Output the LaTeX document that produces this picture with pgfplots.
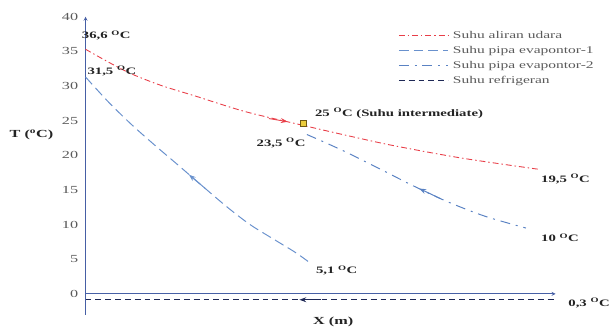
\documentclass[border=0pt]{standalone}
\usepackage{fontspec}
\setmainfont{Liberation Serif}[FakeStretch=1.5]
\usepackage{pgfplots}
\pgfplotsset{compat=1.18}
\usetikzlibrary{arrows.meta}
\definecolor{cred}{RGB}{232,62,72}
\definecolor{cblueA}{RGB}{105,145,205}
\definecolor{cblueB}{RGB}{90,130,195}
\definecolor{cref}{RGB}{30,40,85}
\definecolor{caxis}{RGB}{70,95,165}
\definecolor{clab}{RGB}{35,35,35}
\definecolor{cleg}{RGB}{90,90,90}
\begin{document}
\begin{tikzpicture}
\begin{axis}[
  scale only axis,
  width=478pt, height=303pt,
  xmin=0, xmax=10, ymin=-3, ymax=40,
  axis x line=middle, axis y line=left,
  axis line style={color=caxis, line width=0.8pt},
  hide obscured y ticks=false,
  xtick=\empty,
  ytick={0,5,...,40},
  major tick length=0pt,
  /pgf/number format/assume math mode=true,
  yticklabel style={font=\fontsize{11}{13}\selectfont, text=cleg, xshift=-4pt},
  clip=false,
  legend style={font=\fontsize{10.5}{12}\selectfont, draw=none, fill=none,
    at={(axis cs:6.65,38.2)}, anchor=north west, inner sep=0pt, row sep=2.8pt, column sep=3pt,
    nodes={inner sep=1.5pt, text height=7.5pt, text depth=2pt}},
  legend cell align=left,
  legend image code/.code={\draw[#1] (0pt,0pt) -- (50pt,0pt);},
]
% Suhu aliran udara
\addplot[color=cred, line width=0.9pt, smooth, dash pattern=on 6pt off 3pt on 1.5pt off 3pt] coordinates {
 (0,35.3) (0.5,33.4) (0.96,31.8) (1.6,30.1) (2.36,28.5) (3.4,26.3) (4.64,24.3)
 (5.6,22.8) (6.55,21.4) (8.0,19.6) (9.62,18.0)};
\addlegendentry{\textcolor{cleg}{Suhu aliran udara}}
% Suhu pipa evapontor-1
\addplot[color=cblueA, line width=1pt, smooth, dash pattern=on 10pt off 5pt] coordinates {
 (0,31.3) (0.5,27.6) (1.0,24.3) (1.5,21.3) (1.95,18.7) (2.36,16.3) (3.0,12.6)
 (3.5,10.0) (4.0,7.9) (4.46,6.0) (4.75,4.6)};
\addlegendentry{\textcolor{cleg}{Suhu pipa evapontor-1}}
% Suhu pipa evapontor-2
\addplot[color=cblueB, line width=1pt, smooth, dash pattern=on 10pt off 6pt on 2pt off 6pt] coordinates {
 (4.71,23.0) (5.5,20.6) (6.3,17.9) (6.97,15.6) (7.7,13.3) (8.5,11.2) (9.37,9.5)};
\addlegendentry{\textcolor{cleg}{Suhu pipa evapontor-2}}
% Suhu refrigeran
\addplot[color=cref, line width=1.1pt, dash pattern=on 6pt off 4pt] coordinates {
 (0,-0.85) (9.96,-0.85)};
\addlegendentry{\textcolor{cleg}{Suhu refrigeran}}
% direction arrows
\addplot[forget plot, color=cred, line width=0.9pt, -{Stealth[length=7pt,width=5pt]}] coordinates {(3.9,25.3) (4.3,24.85)};
\addplot[forget plot, color=cblueA, line width=1pt, -{Stealth[length=7pt,width=5pt]}] coordinates {(2.55,15.2) (2.2,17.2)};
\addplot[forget plot, color=cblueB, line width=1pt, -{Stealth[length=7pt,width=5pt]}] coordinates {(7.55,13.75) (7.1,15.2)};
\addplot[forget plot, color=cref, line width=1.1pt, -{Stealth[length=7pt,width=5pt]}] coordinates {(5.0,-0.85) (4.55,-0.85)};
% intermediate point
\addplot[forget plot, only marks, mark=square*, mark size=3pt,
  mark options={fill={rgb,255:red,235;green,205;blue,60}, draw={rgb,255:red,110;green,90;blue,20}, line width=0.8pt}]
  coordinates {(4.64,24.6)};
% labels
\node[font=\fontsize{10}{12}\selectfont\bfseries, text=clab] at (axis cs:0.44,37.3) {36,6 \textsuperscript{O}C};
\node[font=\fontsize{10}{12}\selectfont\bfseries, text=clab] at (axis cs:0.56,32.2) {31,5 \textsuperscript{O}C};
\node[font=\fontsize{10}{12}\selectfont\bfseries, text=clab, anchor=west] at (axis cs:4.81,26.1) {25 \textsuperscript{O}C (Suhu intermediate)};
\node[font=\fontsize{10}{12}\selectfont\bfseries, text=clab] at (axis cs:4.16,21.8) {23,5 \textsuperscript{O}C};
\node[font=\fontsize{10}{12}\selectfont\bfseries, text=clab, anchor=west] at (axis cs:9.62,16.6) {19,5 \textsuperscript{O}C};
\node[font=\fontsize{10}{12}\selectfont\bfseries, text=clab, anchor=west] at (axis cs:9.62,8.1) {10 \textsuperscript{O}C};
\node[font=\fontsize{10}{12}\selectfont\bfseries, text=clab, anchor=west] at (axis cs:4.83,3.4) {5,1 \textsuperscript{O}C};
\node[font=\fontsize{10}{12}\selectfont\bfseries, text=clab, anchor=west] at (axis cs:10.2,-1.3) {0,3 \textsuperscript{O}C};
\node[font=\fontsize{11}{13}\selectfont\bfseries, text=clab] at (axis cs:5.27,-4.1) {X (m)};
\node[font=\fontsize{11}{13}\selectfont\bfseries, text=clab] at (axis cs:-1.15,23.0) {T (\textsuperscript{o}C)};
\end{axis}
\path (current axis.south west) ++(-87pt,-13pt) rectangle ++(613pt,333pt);
\end{tikzpicture}
\end{document}
